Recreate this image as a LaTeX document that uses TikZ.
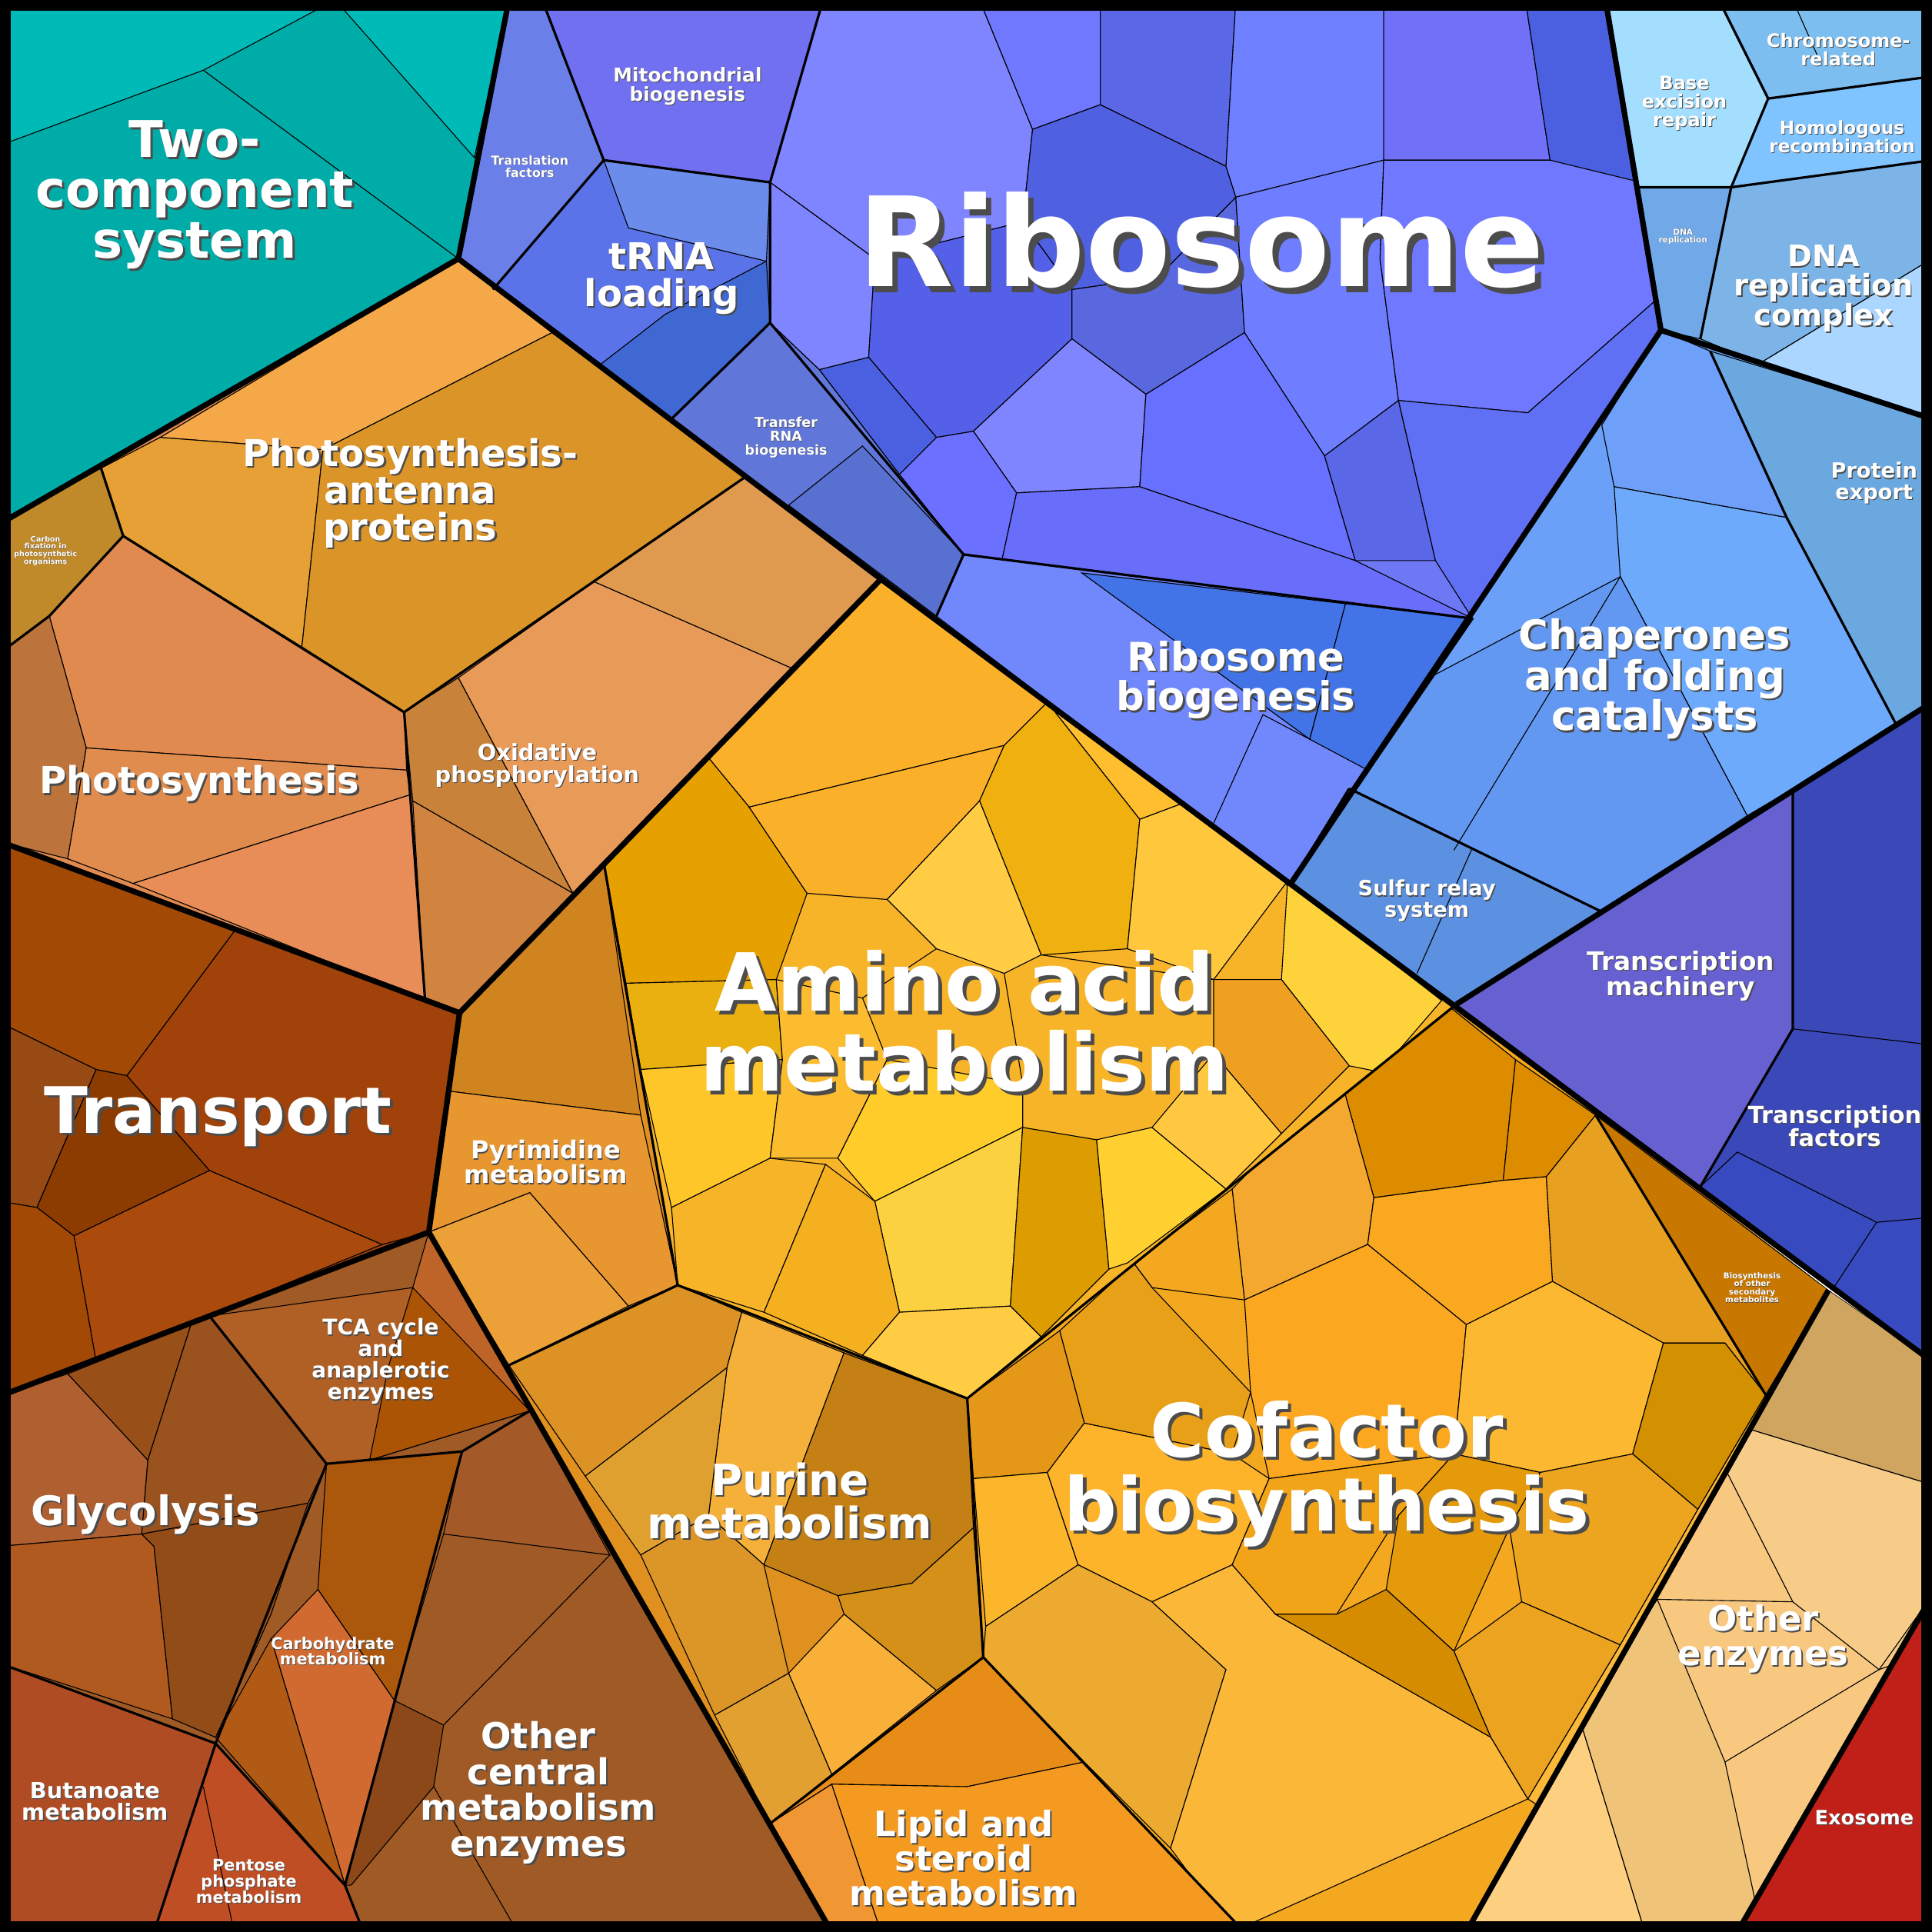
\documentclass[tikz,border=0pt]{standalone}
\usepackage{fontspec}
\setmainfont{DejaVu Sans}
\usetikzlibrary{calc}
\tikzset{
  leaf/.style={draw=black, line width=0.7pt},
  inner/.style={draw=black, line width=2pt, line join=round},
  outer/.style={draw=black, line width=4.5pt, line join=round},
  lbl/.style={font=\fontsize{#1}{#1}\selectfont\bfseries, text=white, align=center, inner sep=0pt}
}
% label with a dark drop shadow
\newcommand\cellname[4]{%
  \node[lbl={#3}, text=black!70, xshift=#3*0.045pt, yshift=-#3*0.045pt] at (#2) {#4};
  \node[lbl={#3}] (#1) at (#2) {#4};}

\begin{document}
\begin{tikzpicture}[x=1pt, y=-1pt]
  \useasboundingbox (0,0) rectangle (1568,1568);
  % main corners of the top level groups
  \coordinate (tl) at (0,0);      \coordinate (tr) at (1568,0);
  \coordinate (bl) at (0,1568);   \coordinate (br) at (1568,1568);
  \coordinate (a) at (413,0);     \coordinate (b) at (372,210);
  \coordinate (c) at (0,425);     \coordinate (d) at (715,470);
  \coordinate (e) at (373,822);   \coordinate (f) at (0,683);
  \coordinate (g) at (348,1000);  \coordinate (h) at (0,1133);
  \coordinate (i) at (675,1568);  \coordinate (j) at (1303,0);
  \coordinate (k) at (1348,268);  \coordinate (l) at (1568,340);
  \coordinate (m) at (1047,718);  \coordinate (n) at (1182,815);
  \coordinate (o) at (1568,570);  \coordinate (p) at (1568,1105);
  \coordinate (q) at (1484,1047); \coordinate (r) at (1190,1568);

  % two-component system
  \begin{scope}
    \clip (tl) -- (a) -- (b) -- (c) -- cycle;
    \fill[fill={rgb,255:red,0;green,172;blue,168}] (0,0) rectangle (420,430);
    \filldraw[leaf, fill={rgb,255:red,0;green,186;blue,184}] (0,0) -- (272,0) -- (165,57) -- (0,118) -- cycle;
    \filldraw[leaf, fill={rgb,255:red,0;green,186;blue,184}] (272,0) -- (413,0) -- (385,128) -- cycle;
    \draw[leaf] (165,57) -- (372,210);
  \end{scope}

  % ribosome group
  \begin{scope}
    \clip (a) -- (j) -- (k) -- (m) -- (b) -- cycle;
    \fill[fill={rgb,255:red,110;green,120;blue,245}] (370,0) rectangle (1350,720);
    \filldraw[leaf, fill={rgb,255:red,106;green,128;blue,232}] (413,0) -- (440,0) -- (490,130) -- (400,235) -- (372,210) -- cycle;
    \filldraw[leaf, fill={rgb,255:red,112;green,112;blue,240}] (440,0) -- (668,0) -- (625,148) -- (490,130) -- cycle;
    \filldraw[leaf, fill={rgb,255:red,90;green,115;blue,232}] (490,130) -- (625,148) -- (625,262) -- (545,340) -- (400,235) -- cycle;
    \filldraw[leaf, fill={rgb,255:red,108;green,140;blue,236}] (490,130) -- (625,148) -- (622,212) -- (510,185) -- cycle;
    \filldraw[leaf, fill={rgb,255:red,64;green,104;blue,210}] (545,340) -- (487,296) -- (540,255) -- (622,212) -- (625,262) -- cycle;
    \filldraw[leaf, fill={rgb,255:red,96;green,118;blue,216}] (545,340) -- (625,262) -- (665,300) -- (730,385) -- (782,450) -- (760,500) -- cycle;
    \filldraw[leaf, fill={rgb,255:red,88;green,112;blue,208}] (640,410) -- (700,362) -- (782,450) -- (760,500) -- cycle;
    \filldraw[leaf, fill={rgb,255:red,127;green,132;blue,255}] (668,0) -- (795,0) -- (838,105) -- (830,180) -- (710,210) -- (625,148) -- cycle;
    \filldraw[leaf, fill={rgb,255:red,112;green,120;blue,255}] (795,0) -- (893,0) -- (893,85) -- (838,105) -- cycle;
    \filldraw[leaf, fill={rgb,255:red,90;green,104;blue,232}] (893,0) -- (1003,0) -- (995,135) -- (893,85) -- cycle;
    \filldraw[leaf, fill={rgb,255:red,79;green,96;blue,224}] (838,105) -- (893,85) -- (995,135) -- (1003,160) -- (940,225) -- (870,235) -- (830,180) -- cycle;
    \filldraw[leaf, fill={rgb,255:red,110;green,128;blue,255}] (1003,0) -- (1123,0) -- (1123,130) -- (1003,160) -- (995,135) -- cycle;
    \filldraw[leaf, fill={rgb,255:red,112;green,112;blue,248}] (1123,0) -- (1238,0) -- (1258,130) -- (1123,130) -- cycle;
    \filldraw[leaf, fill={rgb,255:red,74;green,96;blue,224}] (1238,0) -- (1303,0) -- (1328,155) -- (1258,130) -- cycle;
    \filldraw[leaf, fill={rgb,255:red,127;green,132;blue,255}] (625,148) -- (710,210) -- (705,290) -- (665,300) -- (625,262) -- cycle;
    \filldraw[leaf, fill={rgb,255:red,85;green,96;blue,232}] (710,210) -- (830,180) -- (870,235) -- (870,275) -- (790,350) -- (760,355) -- (705,290) -- cycle;
    \filldraw[leaf, fill={rgb,255:red,90;green,104;blue,224}] (870,235) -- (940,225) -- (1003,160) -- (1010,270) -- (930,320) -- (870,275) -- cycle;
    \filldraw[leaf, fill={rgb,255:red,110;green,126;blue,255}] (1003,160) -- (1123,130) -- (1120,210) -- (1135,325) -- (1075,370) -- (1010,270) -- cycle;
    \filldraw[leaf, fill={rgb,255:red,112;green,120;blue,255}] (1123,130) -- (1258,130) -- (1340,150) -- (1348,240) -- (1240,335) -- (1135,325) -- (1120,210) -- cycle;
    \filldraw[leaf, fill={rgb,255:red,127;green,132;blue,255}] (870,275) -- (930,320) -- (925,395) -- (825,400) -- (790,350) -- cycle;
    \filldraw[leaf, fill={rgb,255:red,104;green,112;blue,255}] (930,320) -- (1010,270) -- (1075,370) -- (1100,455) -- (925,395) -- cycle;
    \filldraw[leaf, fill={rgb,255:red,90;green,104;blue,232}] (1075,370) -- (1135,325) -- (1165,455) -- (1100,455) -- cycle;
    \filldraw[leaf, fill={rgb,255:red,96;green,112;blue,245}] (1135,325) -- (1240,335) -- (1348,240) -- (1348,268) -- (1195,502) -- (1165,455) -- cycle;
    \filldraw[leaf, fill={rgb,255:red,74;green,96;blue,224}] (665,300) -- (705,290) -- (760,355) -- (730,385) -- cycle;
    \filldraw[leaf, fill={rgb,255:red,108;green,112;blue,255}] (760,355) -- (790,350) -- (825,400) -- (812,460) -- (782,450) -- (730,385) -- cycle;
    \filldraw[leaf, fill={rgb,255:red,104;green,110;blue,250}] (825,400) -- (925,395) -- (1100,455) -- (1195,502) -- (782,450) -- (812,460) -- cycle;
    % ribosome biogenesis
    \filldraw[leaf, fill={rgb,255:red,112;green,136;blue,252}] (782,450) -- (1195,502) -- (1047,718) -- (760,500) -- cycle;
    \filldraw[leaf, fill={rgb,255:red,66;green,116;blue,232}] (878,465) -- (1092,490) -- (1063,600) -- cycle;
    \filldraw[leaf, fill={rgb,255:red,66;green,116;blue,232}] (1092,490) -- (1195,502) -- (1110,625) -- (1063,600) -- cycle;
    \draw[leaf] (1063,600) -- (1025,580) -- (985,668);
  \end{scope}

  % DNA group
  \begin{scope}
    \clip (j) -- (tr) -- (l) -- (k) -- cycle;
    \fill[fill={rgb,255:red,128;green,184;blue,236}] (1300,0) rectangle (1568,345);
    \filldraw[leaf, fill={rgb,255:red,164;green,222;blue,255}] (1303,0) -- (1395,0) -- (1435,80) -- (1405,152) -- (1328,152) -- cycle;
    \filldraw[leaf, fill={rgb,255:red,124;green,190;blue,240}] (1395,0) -- (1568,0) -- (1568,62) -- (1435,80) -- cycle;
    \draw[leaf] (1455,0) -- (1478,52);
    \filldraw[leaf, fill={rgb,255:red,128;green,196;blue,255}] (1435,80) -- (1568,62) -- (1568,130) -- (1405,152) -- cycle;
    \filldraw[leaf, fill={rgb,255:red,112;green,168;blue,232}] (1328,152) -- (1405,152) -- (1380,275) -- (1348,268) -- cycle;
    \filldraw[leaf, fill={rgb,255:red,124;green,180;blue,232}] (1405,152) -- (1568,130) -- (1568,210) -- (1428,295) -- (1380,275) -- cycle;
    \filldraw[leaf, fill={rgb,255:red,170;green,214;blue,255}] (1428,295) -- (1568,210) -- (1568,340) -- cycle;
  \end{scope}

  % chaperones, export, sulfur relay
  \begin{scope}
    \clip (k) -- (l) -- (o) -- (n) -- (m) -- cycle;
    \fill[fill={rgb,255:red,106;green,160;blue,248}] (1040,260) rectangle (1568,820);
    \filldraw[leaf, fill={rgb,255:red,108;green,168;blue,224}] (1388,285) -- (1568,340) -- (1568,580) -- (1540,590) -- (1450,420) -- cycle;
    \filldraw[leaf, fill={rgb,255:red,110;green,160;blue,250}] (1348,268) -- (1388,285) -- (1450,420) -- (1310,395) -- (1300,345) -- cycle;
    \filldraw[leaf, fill={rgb,255:red,110;green,170;blue,252}] (1310,395) -- (1450,420) -- (1540,590) -- (1418,662) -- (1315,468) -- cycle;
    \filldraw[leaf, fill={rgb,255:red,98;green,152;blue,242}] (1315,468) -- (1418,662) -- (1300,740) -- (1095,640) -- (1160,550) -- cycle;
    \filldraw[leaf, fill={rgb,255:red,92;green,144;blue,224}] (1095,640) -- (1300,740) -- (1182,815) -- (1047,718) -- cycle;
    \draw[leaf] (1195,688) -- (1150,790);
    \draw[leaf] (1315,468) -- (1180,690);
  \end{scope}

  % transcription group
  \begin{scope}
    \clip (n) -- (o) -- (p) -- cycle;
    \fill[fill={rgb,255:red,58;green,72;blue,184}] (1180,560) rectangle (1568,1110);
    \filldraw[leaf, fill={rgb,255:red,102;green,96;blue,208}] (1182,815) -- (1455,643) -- (1455,835) -- (1380,963) -- cycle;
    \filldraw[leaf, fill={rgb,255:red,56;green,74;blue,192}] (1380,963) -- (1410,935) -- (1523,992) -- (1568,988) -- (1568,1105) -- cycle;
    \draw[leaf] (1455,835) -- (1568,848);
    \draw[leaf] (1523,992) -- (1485,1050);
  \end{scope}

  % energy group
  \begin{scope}
    \clip (c) -- (b) -- (d) -- (e) -- (f) -- cycle;
    \fill[fill={rgb,255:red,224;green,138;blue,80}] (0,200) rectangle (720,830);
    \filldraw[leaf, fill={rgb,255:red,192;green,138;blue,42}] (0,425) -- (82,380) -- (100,435) -- (40,500) -- (0,530) -- cycle;
    \filldraw[leaf, fill={rgb,255:red,244;green,168;blue,72}] (130,355) -- (372,210) -- (448,270) -- (262,365) -- cycle;
    \filldraw[leaf, fill={rgb,255:red,230;green,160;blue,53}] (82,380) -- (130,355) -- (262,365) -- (245,525) -- (100,435) -- cycle;
    \filldraw[leaf, fill={rgb,255:red,218;green,148;blue,40}] (262,365) -- (448,270) -- (605,387) -- (328,578) -- (245,525) -- cycle;
    \filldraw[leaf, fill={rgb,255:red,224;green,138;blue,80}] (40,500) -- (100,435) -- (328,578) -- (330,625) -- (70,607) -- cycle;
    \filldraw[leaf, fill={rgb,255:red,188;green,116;blue,60}] (0,530) -- (40,500) -- (70,607) -- (55,697) -- (0,683) -- cycle;
    \filldraw[leaf, fill={rgb,255:red,224;green,140;blue,78}] (70,607) -- (330,625) -- (333,645) -- (108,717) -- (55,697) -- cycle;
    \filldraw[leaf, fill={rgb,255:red,232;green,140;blue,88}] (108,717) -- (333,645) -- (345,812) -- cycle;
    \filldraw[leaf, fill={rgb,255:red,200;green,130;blue,58}] (328,578) -- (372,550) -- (465,725) -- (335,650) -- cycle;
    \filldraw[leaf, fill={rgb,255:red,208;green,132;blue,64}] (335,650) -- (465,725) -- (373,822) -- (345,812) -- cycle;
    \filldraw[leaf, fill={rgb,255:red,232;green,154;blue,88}] (372,550) -- (482,472) -- (642,542) -- (465,725) -- cycle;
    \filldraw[leaf, fill={rgb,255:red,224;green,154;blue,80}] (482,472) -- (605,387) -- (715,470) -- (642,542) -- cycle;
  \end{scope}

  % transport
  \begin{scope}
    \clip (f) -- (e) -- (g) -- (h) -- cycle;
    \fill[fill={rgb,255:red,160;green,66;blue,10}] (0,680) rectangle (380,1140);
    \filldraw[leaf, fill={rgb,255:red,162;green,74;blue,5}] (0,683) -- (193,752) -- (103,873) -- (78,868) -- (0,830) -- cycle;
    \filldraw[leaf, fill={rgb,255:red,160;green,66;blue,10}] (193,752) -- (373,822) -- (348,1000) -- (310,1010) -- (170,950) -- (103,873) -- cycle;
    \filldraw[leaf, fill={rgb,255:red,152;green,74;blue,21}] (0,830) -- (78,868) -- (30,980) -- (0,975) -- cycle;
    \filldraw[leaf, fill={rgb,255:red,140;green,60;blue,0}] (78,868) -- (103,873) -- (170,950) -- (60,1003) -- (30,980) -- cycle;
    \filldraw[leaf, fill={rgb,255:red,170;green,74;blue,12}] (60,1003) -- (170,950) -- (310,1010) -- (78,1105) -- cycle;
    \filldraw[leaf, fill={rgb,255:red,162;green,74;blue,5}] (0,975) -- (30,980) -- (60,1003) -- (78,1105) -- (0,1133) -- cycle;
  \end{scope}

  % central metabolism
  \begin{scope}
    \clip (h) -- (g) -- (i) -- (bl) -- cycle;
    \fill[fill={rgb,255:red,160;green,90;blue,37}] (0,990) rectangle (680,1568);
    \filldraw[leaf, fill={rgb,255:red,176;green,96;blue,48}] (0,1133) -- (55,1115) -- (120,1185) -- (115,1245) -- (0,1255) -- cycle;
    \filldraw[leaf, fill={rgb,255:red,152;green,80;blue,24}] (55,1115) -- (155,1075) -- (120,1185) -- cycle;
    \filldraw[leaf, fill={rgb,255:red,154;green,82;blue,30}] (155,1075) -- (170,1068) -- (265,1188) -- (250,1220) -- (115,1245) -- (120,1185) -- cycle;
    \filldraw[leaf, fill={rgb,255:red,176;green,90;blue,32}] (0,1255) -- (115,1245) -- (125,1255) -- (140,1395) -- (0,1350) -- cycle;
    \filldraw[leaf, fill={rgb,255:red,146;green,76;blue,24}] (115,1245) -- (250,1220) -- (220,1310) -- (175,1410) -- (140,1395) -- (125,1255) -- cycle;
    \filldraw[leaf, fill={rgb,255:red,176;green,96;blue,36}] (170,1068) -- (335,1045) -- (330,1070) -- (300,1185) -- (265,1188) -- cycle;
    \filldraw[leaf, fill={rgb,255:red,190;green,100;blue,40}] (335,1045) -- (348,1000) -- (430,1145) -- (300,1185) -- (330,1070) -- cycle;
    \filldraw[leaf, fill={rgb,255:red,172;green,84;blue,6}] (335,1045) -- (430,1145) -- (300,1185) -- (315,1110) -- cycle;
    \filldraw[leaf, fill={rgb,255:red,172;green,88;blue,12}] (265,1188) -- (375,1178) -- (320,1380) -- (258,1290) -- cycle;
    \filldraw[leaf, fill={rgb,255:red,208;green,106;blue,48}] (258,1290) -- (320,1380) -- (280,1530) -- (220,1330) -- cycle;
    \filldraw[leaf, fill={rgb,255:red,176;green,90;blue,22}] (175,1410) -- (220,1330) -- (280,1530) -- cycle;
    \filldraw[leaf, fill={rgb,255:red,140;green,72;blue,24}] (320,1380) -- (360,1400) -- (352,1450) -- (285,1530) -- (280,1530) -- cycle;
    \filldraw[leaf, fill={rgb,255:red,164;green,90;blue,40}] (375,1178) -- (430,1145) -- (495,1262) -- (360,1245) -- cycle;
    \draw[leaf] (360,1245) -- (320,1380);
    \draw[leaf] (495,1262) -- (360,1400);
    \draw[leaf] (352,1450) -- (420,1568);
    \filldraw[leaf, fill={rgb,255:red,176;green,76;blue,36}] (0,1350) -- (175,1415) -- (125,1568) -- (0,1568) -- cycle;
    \filldraw[leaf, fill={rgb,255:red,192;green,78;blue,36}] (175,1415) -- (280,1530) -- (295,1568) -- (125,1568) -- cycle;
    \draw[leaf] (165,1450) -- (190,1568);
  \end{scope}

  % metabolism group: amino acids
  \begin{scope}
    \clip (d) -- (n) -- (785,1135) -- (550,1043) -- (490,700) -- cycle;
    \fill[fill={rgb,255:red,248;green,180;blue,40}] (480,460) rectangle (1180,1140);
    \filldraw[leaf, fill={rgb,255:red,251;green,176;blue,42}] (715,470) -- (850,570) -- (815,605) -- (608,655) -- (575,615) -- cycle;
    \filldraw[leaf, fill={rgb,255:red,230;green,160;blue,0}] (575,615) -- (608,655) -- (655,725) -- (630,795) -- (508,798) -- (490,700) -- cycle;
    \filldraw[leaf, fill={rgb,255:red,251;green,176;blue,42}] (608,655) -- (815,605) -- (795,650) -- (720,730) -- (655,725) -- cycle;
    \filldraw[leaf, fill={rgb,255:red,254;green,190;blue,46}] (715,470) -- (1170,812) -- (1040,715) -- (965,650) -- (925,665) -- (850,570) -- cycle;
    \filldraw[leaf, fill={rgb,255:red,240;green,176;blue,16}] (815,605) -- (850,570) -- (925,665) -- (915,770) -- (845,775) -- (795,650) -- cycle;
    \filldraw[leaf, fill={rgb,255:red,255;green,204;blue,68}] (795,650) -- (845,775) -- (815,790) -- (760,770) -- (720,730) -- cycle;
    \filldraw[leaf, fill={rgb,255:red,255;green,200;blue,60}] (925,665) -- (965,650) -- (1045,715) -- (985,795) -- (915,770) -- cycle;
    \filldraw[leaf, fill={rgb,255:red,254;green,210;blue,58}] (1045,715) -- (1170,812) -- (1120,870) -- (1095,865) -- (1040,795) -- cycle;
    \filldraw[leaf, fill={rgb,255:red,240;green,160;blue,32}] (985,795) -- (1040,795) -- (1095,865) -- (1040,920) -- (985,855) -- cycle;
    \filldraw[leaf, fill={rgb,255:red,234;green,176;blue,16}] (508,798) -- (630,795) -- (635,860) -- (520,868) -- cycle;
    \filldraw[leaf, fill={rgb,255:red,255;green,198;blue,42}] (520,868) -- (635,860) -- (625,940) -- (545,980) -- cycle;
    \filldraw[leaf, fill={rgb,255:red,252;green,188;blue,48}] (630,795) -- (700,810) -- (720,860) -- (680,940) -- (625,940) -- (635,860) -- cycle;
    \filldraw[leaf, fill={rgb,255:red,255;green,204;blue,42}] (720,860) -- (830,880) -- (830,915) -- (710,975) -- (680,940) -- cycle;
    \filldraw[leaf, fill={rgb,255:red,252;green,209;blue,64}] (710,975) -- (830,915) -- (820,1060) -- (730,1065) -- cycle;
    \filldraw[leaf, fill={rgb,255:red,221;green,156;blue,0}] (830,915) -- (890,925) -- (900,1030) -- (845,1085) -- (820,1060) -- cycle;
    \filldraw[leaf, fill={rgb,255:red,255;green,208;blue,48}] (890,925) -- (935,915) -- (995,965) -- (915,1025) -- (900,1030) -- cycle;
    \filldraw[leaf, fill={rgb,255:red,255;green,200;blue,64}] (935,915) -- (985,855) -- (1040,920) -- (995,965) -- cycle;
    \filldraw[leaf, fill={rgb,255:red,248;green,180;blue,40}] (545,980) -- (625,940) -- (670,945) -- (620,1065) -- (550,1043) -- cycle;
    \filldraw[leaf, fill={rgb,255:red,245;green,176;blue,32}] (670,945) -- (710,975) -- (730,1065) -- (700,1100) -- (620,1065) -- cycle;
    \filldraw[leaf, fill={rgb,255:red,255;green,204;blue,68}] (730,1065) -- (820,1060) -- (845,1085) -- (785,1135) -- (700,1100) -- cycle;
    \draw[leaf] (760,770) -- (700,810);
    \draw[leaf] (815,790) -- (830,880);
    \draw[leaf] (845,775) -- (985,795);
  \end{scope}

  % pyrimidine, purine, lipid
  \begin{scope}
    \clip (490,700) -- (550,1043) -- (785,1135) -- (798,1345) -- (1010,1568) -- (i) -- (g) -- (e) -- cycle;
    \fill[fill={rgb,255:red,224;green,144;blue,30}] (340,690) rectangle (1020,1568);
    \filldraw[leaf, fill={rgb,255:red,208;green,132;blue,32}] (490,700) -- (520,905) -- (360,885) -- (373,822) -- cycle;
    \filldraw[leaf, fill={rgb,255:red,232;green,150;blue,48}] (360,885) -- (520,905) -- (550,1043) -- (510,1060) -- (430,968) -- (348,1000) -- cycle;
    \filldraw[leaf, fill={rgb,255:red,236;green,160;blue,56}] (348,1000) -- (430,968) -- (510,1060) -- (413,1108) -- cycle;
    \filldraw[leaf, fill={rgb,255:red,220;green,146;blue,36}] (413,1108) -- (550,1043) -- (602,1065) -- (590,1110) -- (475,1198) -- cycle;
    \filldraw[leaf, fill={rgb,255:red,244;green,176;blue,56}] (602,1065) -- (685,1098) -- (620,1270) -- (575,1230) -- (590,1110) -- cycle;
    \filldraw[leaf, fill={rgb,255:red,196;green,128;blue,20}] (685,1098) -- (785,1135) -- (790,1240) -- (740,1285) -- (680,1295) -- (620,1270) -- cycle;
    \filldraw[leaf, fill={rgb,255:red,212;green,144;blue,24}] (740,1285) -- (790,1240) -- (798,1345) -- (760,1372) -- (685,1310) -- (680,1295) -- cycle;
    \filldraw[leaf, fill={rgb,255:red,248;green,176;blue,56}] (685,1310) -- (760,1372) -- (675,1440) -- (640,1358) -- cycle;
    \filldraw[leaf, fill={rgb,255:red,224;green,160;blue,48}] (475,1198) -- (590,1110) -- (575,1230) -- (520,1262) -- cycle;
    \filldraw[leaf, fill={rgb,255:red,220;green,150;blue,40}] (520,1262) -- (575,1230) -- (620,1270) -- (640,1358) -- (580,1392) -- cycle;
    \filldraw[leaf, fill={rgb,255:red,226;green,160;blue,48}] (580,1392) -- (640,1358) -- (675,1440) -- (625,1480) -- cycle;
    \filldraw[leaf, fill={rgb,255:red,232;green,140;blue,24}] (625,1480) -- (798,1345) -- (880,1430) -- (785,1450) -- (675,1448) -- cycle;
    \filldraw[leaf, fill={rgb,255:red,240;green,150;blue,50}] (625,1480) -- (675,1448) -- (715,1568) -- (675,1568) -- cycle;
    \filldraw[leaf, fill={rgb,255:red,244;green,154;blue,32}] (675,1448) -- (785,1450) -- (880,1430) -- (1010,1568) -- (715,1568) -- cycle;
  \end{scope}

  % cofactor biosynthesis
  \begin{scope}
    \clip (n) -- (q) -- (r) -- (1010,1568) -- (798,1345) -- (785,1135) -- cycle;
    \fill[fill={rgb,255:red,244;green,168;blue,32}] (780,800) rectangle (1490,1568);
    \filldraw[leaf, fill={rgb,255:red,221;green,140;blue,0}] (1088,875) -- (1170,812) -- (1230,860) -- (1220,958) -- (1115,972) -- cycle;
    \filldraw[leaf, fill={rgb,255:red,221;green,140;blue,0}] (1230,860) -- (1295,905) -- (1255,955) -- (1220,958) -- cycle;
    \filldraw[leaf, fill={rgb,255:red,244;green,168;blue,48}] (1000,965) -- (1088,875) -- (1115,972) -- (1110,1010) -- (1010,1055) -- cycle;
    \filldraw[leaf, fill={rgb,255:red,244;green,168;blue,32}] (920,1025) -- (1000,965) -- (1010,1055) -- (935,1045) -- cycle;
    \filldraw[leaf, fill={rgb,255:red,250;green,168;blue,32}] (1115,972) -- (1220,958) -- (1255,955) -- (1260,1040) -- (1190,1075) -- (1110,1010) -- cycle;
    \filldraw[leaf, fill={rgb,255:red,232;green,160;blue,32}] (1255,955) -- (1295,905) -- (1433,1132) -- (1400,1090) -- (1350,1090) -- (1260,1040) -- cycle;
    \filldraw[leaf, fill={rgb,255:red,200;green,120;blue,0}] (1295,905) -- (1484,1047) -- (1433,1132) -- cycle;
    \filldraw[leaf, fill={rgb,255:red,251;green,168;blue,32}] (1010,1055) -- (1110,1010) -- (1190,1075) -- (1180,1180) -- (1030,1200) -- (1015,1130) -- cycle;
    \filldraw[leaf, fill={rgb,255:red,252;green,184;blue,48}] (1190,1075) -- (1260,1040) -- (1350,1090) -- (1325,1180) -- (1250,1195) -- (1180,1180) -- cycle;
    \filldraw[leaf, fill={rgb,255:red,211;green,144;blue,0}] (1350,1090) -- (1400,1090) -- (1433,1132) -- (1378,1225) -- (1325,1180) -- cycle;
    \filldraw[leaf, fill={rgb,255:red,232;green,160;blue,24}] (860,1080) -- (920,1025) -- (935,1045) -- (1015,1130) -- (1000,1180) -- (880,1155) -- cycle;
    \filldraw[leaf, fill={rgb,255:red,229;green,152;blue,24}] (785,1135) -- (860,1080) -- (880,1155) -- (850,1195) -- (790,1200) -- cycle;
    \filldraw[leaf, fill={rgb,255:red,251;green,182;blue,44}] (790,1200) -- (850,1195) -- (875,1270) -- (800,1320) -- cycle;
    \filldraw[leaf, fill={rgb,255:red,253;green,180;blue,42}] (880,1155) -- (1000,1180) -- (1030,1200) -- (1000,1270) -- (935,1300) -- (875,1270) -- (850,1195) -- cycle;
    \filldraw[leaf, fill={rgb,255:red,242;green,164;blue,24}] (1030,1200) -- (1180,1180) -- (1135,1230) -- (1085,1310) -- (1035,1310) -- (1000,1270) -- cycle;
    \filldraw[leaf, fill={rgb,255:red,228;green,154;blue,10}] (1180,1180) -- (1250,1195) -- (1225,1240) -- (1180,1340) -- (1125,1290) -- (1135,1230) -- cycle;
    \filldraw[leaf, fill={rgb,255:red,237;green,165;blue,32}] (1250,1195) -- (1325,1180) -- (1378,1225) -- (1315,1335) -- (1235,1300) -- (1225,1240) -- cycle;
    \filldraw[leaf, fill={rgb,255:red,237;green,170;blue,48}] (875,1270) -- (935,1300) -- (995,1355) -- (950,1500) -- (880,1430) -- (798,1345) -- (800,1320) -- cycle;
    \filldraw[leaf, fill={rgb,255:red,251;green,184;blue,56}] (935,1300) -- (1000,1270) -- (1035,1310) -- (1210,1410) -- (1240,1460) -- (1000,1568) -- (950,1500) -- (995,1355) -- cycle;
    \filldraw[leaf, fill={rgb,255:red,213;green,140;blue,0}] (1035,1310) -- (1085,1310) -- (1125,1290) -- (1180,1340) -- (1210,1410) -- cycle;
    \filldraw[leaf, fill={rgb,255:red,236;green,164;blue,32}] (1180,1340) -- (1235,1300) -- (1315,1335) -- (1240,1460) -- (1210,1410) -- cycle;
    \filldraw[leaf, fill={rgb,255:red,252;green,184;blue,56}] (1315,1335) -- (1378,1225) -- (1433,1132) -- (1410,1568) -- (1240,1460) -- cycle;
  \end{scope}

  % other enzymes and exosome
  \begin{scope}
    \clip (q) -- (p) -- (br) -- (r) -- cycle;
    \fill[fill={rgb,255:red,248;green,200;blue,128}] (1180,1040) rectangle (1568,1568);
    \filldraw[leaf, fill={rgb,255:red,208;green,165;blue,96}] (1484,1047) -- (1568,1105) -- (1568,1205) -- (1420,1160) -- cycle;
    \filldraw[leaf, fill={rgb,255:red,252;green,208;blue,128}] (1345,1298) -- (1282,1395) -- (1335,1568) -- (1180,1568) -- (1300,1360) -- cycle;
    \filldraw[leaf, fill={rgb,255:red,240;green,196;blue,120}] (1282,1395) -- (1345,1298) -- (1400,1430) -- (1430,1568) -- (1335,1568) -- cycle;
    \filldraw[leaf, fill={rgb,255:red,246;green,204;blue,136}] (1420,1160) -- (1568,1205) -- (1568,1295) -- (1525,1355) -- (1455,1300) -- (1395,1182) -- cycle;
    \draw[leaf] (1400,1430) -- (1525,1355) -- (1568,1340);
    \draw[leaf] (1345,1298) -- (1455,1300);
    \filldraw[outer, fill={rgb,255:red,192;green,32;blue,24}] (1410,1568) -- (1568,1295) -- (1568,1568) -- cycle;
  \end{scope}

  % second level borders
  \draw[inner] (82,380) -- (100,435) -- (40,500) -- (0,530);
  \draw[inner] (100,435) -- (328,578) -- (605,387);
  \draw[inner] (328,578) -- (345,812);
  \draw[inner] (625,148) -- (668,0);
  \draw[inner] (400,235) -- (490,130) -- (440,0);
  \draw[inner] (490,130) -- (625,148) -- (625,262) -- (545,340);
  \draw[inner] (625,262) -- (782,450) -- (1195,502) -- (1047,718);
  \draw[inner] (782,450) -- (760,500);
  \draw[inner] (1395,0) -- (1435,80) -- (1405,152) -- (1328,152) -- (1348,268);
  \draw[inner] (1435,80) -- (1568,62);
  \draw[inner] (1405,152) -- (1568,130);
  \draw[inner] (1405,152) -- (1380,275);
  \draw[inner] (1388,285) -- (1450,420) -- (1540,590);
  \draw[inner] (1095,640) -- (1300,740);
  \draw[inner] (1047,718) -- (1095,640);
  \draw[inner] (1455,643) -- (1455,835) -- (1380,963);
  \draw[inner] (170,1068) -- (265,1188) -- (175,1415) -- (0,1350);
  \draw[inner] (265,1188) -- (375,1178) -- (430,1145);
  \draw[inner] (375,1178) -- (280,1530) -- (295,1568);
  \draw[inner] (175,1415) -- (125,1568);
  \draw[inner] (280,1530) -- (175,1415);
  \draw[inner] (490,700) -- (550,1043) -- (413,1108);
  \draw[inner] (550,1043) -- (785,1135) -- (n);
  \draw[inner] (785,1135) -- (798,1345) -- (1010,1568);
  \draw[inner] (798,1345) -- (625,1480);
  \draw[inner] (1295,905) -- (1433,1132);

  % top level borders
  \draw[outer] (a) -- (b) -- (c);
  \draw[outer] (b) -- (d) -- (p);
  \draw[outer] (d) -- (e) -- (f);
  \draw[outer] (e) -- (g) -- (h);
  \draw[outer] (g) -- (i);
  \draw[outer] (j) -- (k) -- (l);
  \draw[outer] (k) -- (m);
  \draw[outer] (n) -- (o);
  \draw[outer] (q) -- (r);
  \draw[line width=9pt] (4.5,4.5) rectangle (1563.5,1563.5);

  % labels
  \cellname{twocomp}{158,158}{41}{Two-\\component\\system}
  \cellname{ribo}{975,195}{101}{Ribosome}
  \cellname{mito}{558,70}{15.5}{Mitochondrial\\biogenesis}
  \cellname{transl}{430,135}{10}{Translation\\factors}
  \cellname{trna}{537,226}{30}{tRNA\\loading}
  \cellname{transfer}{638,355}{11}{Transfer\\RNA\\biogenesis}
  \cellname{ribobio}{1003,552}{32}{Ribosome\\biogenesis}
  \cellname{ber}{1367,84}{15}{Base\\excision\\repair}
  \cellname{chrom}{1492,40}{15}{Chromosome-\\related}
  \cellname{homrec}{1495,111}{14.5}{Homologous\\recombination}
  \cellname{dnarep}{1366,192}{6.5}{DNA\\replication}
  \cellname{dnacx}{1480,234}{24}{DNA\\replication\\complex}
  \cellname{export}{1521,392}{17}{Protein\\export}
  \cellname{chap}{1343,551}{33}{Chaperones\\and folding\\catalysts}
  \cellname{sulfur}{1158,731}{17}{Sulfur relay\\system}
  \cellname{tmach}{1364,792}{20.5}{Transcription\\machinery}
  \cellname{tfac}{1489,914}{19}{Transcription\\factors}
  \cellname{antenna}{333,400}{30}{Photosynthesis-\\antenna\\proteins}
  \cellname{carbfix}{37,447}{6}{Carbon\\fixation in\\photosynthetic\\organisms}
  \cellname{photo}{162,636}{30}{Photosynthesis}
  \cellname{oxphos}{436,621}{18}{Oxidative\\phosphorylation}
  \cellname{transport}{177,906}{52}{Transport}
  \cellname{amino}{783,829}{65}{Amino acid\\metabolism}
  \cellname{pyrim}{443,943}{20}{Pyrimidine\\metabolism}
  \cellname{purine}{641,1218}{35}{Purine\\metabolism}
  \cellname{cofac}{1077,1196}{60}{Cofactor\\biosynthesis}
  \cellname{secmet}{1422,1045}{6.5}{Biosynthesis\\of other\\secondary\\metabolites}
  \cellname{lipid}{782,1508}{28}{Lipid and\\steroid\\metabolism}
  \cellname{othenz}{1431,1330}{28}{Other\\enzymes}
  \cellname{exosome}{1513,1475}{16}{Exosome}
  \cellname{tca}{309,1105}{17.5}{TCA cycle\\and\\anaplerotic\\enzymes}
  \cellname{glyco}{118,1229}{33}{Glycolysis}
  \cellname{carbo}{270,1340}{13}{Carbohydrate\\metabolism}
  \cellname{othcen}{437,1455}{29}{Other\\central\\metabolism\\enzymes}
  \cellname{butan}{77,1462}{18}{Butanoate\\metabolism}
  \cellname{pentose}{202,1527}{13}{Pentose\\phosphate\\metabolism}
\end{tikzpicture}
\end{document}
